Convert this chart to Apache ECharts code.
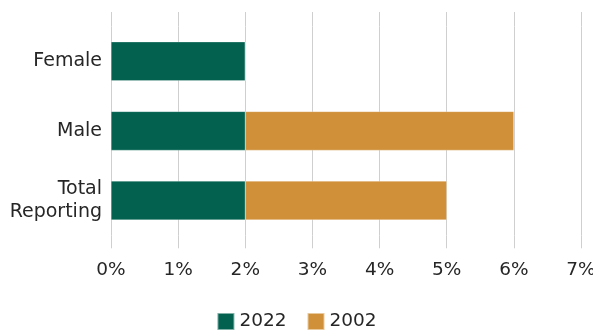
<!DOCTYPE html>
<html><head><meta charset="utf-8">
<script src="https://cdn.jsdelivr.net/npm/echarts@6/dist/echarts.min.js"></script>
<style>html,body{margin:0;padding:0;background:#fff}#c{width:593px;height:334px}</style>
</head><body><div id="c"></div>
<script>
var categories = ['Total\nReporting', 'Male', 'Female'];
var series2022 = [2, 2, 2];
var series2002 = [3, 4, 0];
var tickLabels = ['0%','1%','2%','3%','4%','5%','6%','7%'];

var font = 'DejaVu Sans';
var gridColor = '#cfcfcf';
var chart = echarts.init(document.getElementById('c'));
var xBase = {type:'value', min:0, max:7, interval:1};
chart.setOption({
  animation:false,
  textStyle:{fontFamily:font},
  grid:{left:111, right:12, top:26.5, bottom:98.7, containLabel:false, outerBoundsMode:'none'},
  legend:{top:307, left:'center', itemWidth:17, itemHeight:17, itemGap:20,
    icon:'rect', textStyle:{fontFamily:font, fontSize:18.5, color:'#262626'},
    data:['2022','2002']},
  xAxis:[
    Object.assign({}, xBase, {position:'bottom',
      axisLine:{show:false},
      axisTick:{show:true, length:13, lineStyle:{color:gridColor, width:1}},
      splitLine:{show:true, lineStyle:{color:gridColor, width:1}},
      axisLabel:{margin:25, fontSize:18.5, color:'#262626', fontFamily:font,
        formatter:function(v){return tickLabels[Math.round(v)];}}}),
    Object.assign({}, xBase, {position:'top',
      axisLine:{show:false},
      axisTick:{show:true, length:14.5, lineStyle:{color:gridColor, width:1}},
      splitLine:{show:false}, axisLabel:{show:false}})
  ],
  yAxis:{type:'category', data:categories,
    axisLine:{show:false}, axisTick:{show:false},
    axisLabel:{margin:9, fontSize:19, lineHeight:23, color:'#262626', fontFamily:font, align:'right'}},
  series:[
    {name:'2022', type:'bar', stack:'s', data:series2022, barWidth:'56%',
      itemStyle:{color:'#02614F', borderColor:'rgba(255,255,255,0.5)', borderWidth:0.5}},
    {name:'2002', type:'bar', stack:'s', data:series2002, barWidth:'56%',
      itemStyle:{color:'#D0903A', borderColor:'rgba(255,255,255,0.5)', borderWidth:0.5}}
  ]
});
</script></body></html>
